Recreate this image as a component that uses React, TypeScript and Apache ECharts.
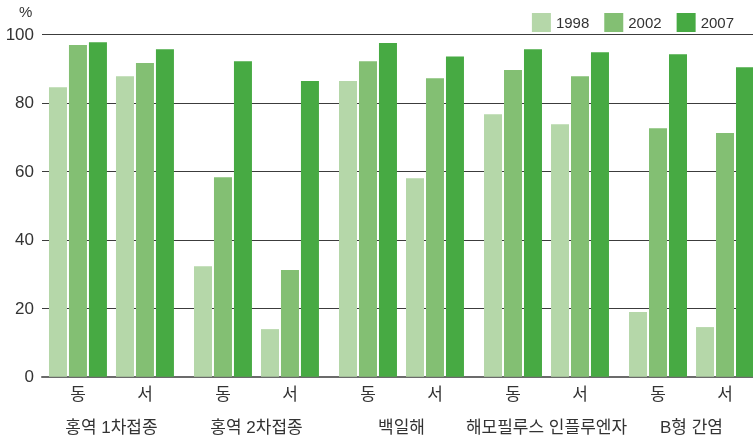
import React, { useEffect, useRef } from "react";
import * as echarts from "echarts";

const GROUPS = ["홍역 1차접종", "홍역 2차접종", "백일해", "해모필루스 인플루엔자", "B형 간염"];
const SIDES = ["동", "서"];
const SERIES_NAMES = ["1998", "2002", "2007"];
const S1998 = [84.6, 87.8, 32.3, 13.9, 86.4, 58.0, 76.7, 73.8, 18.9, 14.5];
const S2002 = [96.9, 91.7, 58.3, 31.2, 92.2, 87.2, 89.6, 87.8, 72.6, 71.2];
const S2007 = [97.7, 95.7, 92.2, 86.4, 97.5, 93.6, 95.7, 94.8, 94.2, 90.4];
const Y_MIN = 0;
const Y_MAX = 100;
const Y_INTERVAL = 20;
const UNIT = "%";

const COLORS = ["#b5d7a9", "#83bf73", "#47aa43"];
const FONT = "'Liberation Sans', 'Noto Sans CJK KR', sans-serif";

// layout of the x scale (group pitch = 1 unit)
const SIDE_OFFSET = 0.462;
const X_MIN = -0.248;
const X_MAX = 4.655;

export default function App() {
  const ref = useRef<HTMLDivElement>(null);

  useEffect(() => {
    if (!ref.current) return;
    const chart = echarts.init(ref.current, null, { renderer: "svg" });

    const nCats = GROUPS.length * SIDES.length;
    const positions: number[] = [];
    for (let i = 0; i < nCats; i++) {
      positions.push(Math.floor(i / 2) + (i % 2) * SIDE_OFFSET);
    }
    const groupCenters = GROUPS.map((_, g) => g + SIDE_OFFSET / 2);
    const findIdx = (arr: number[], v: number) =>
      arr.findIndex((p) => Math.abs(p - v) < 1e-6);

    const seriesData = [S1998, S2002, S2007];

    chart.setOption({
      animation: false,
      textStyle: { fontFamily: FONT },
      legend: {
        data: SERIES_NAMES,
        right: 14,
        top: 8,
        icon: "rect",
        itemWidth: 19,
        itemHeight: 19,
        itemGap: 15,
        textStyle: { fontSize: 15, color: "#333", fontFamily: FONT },
      },
      graphic: [
        {
          type: "text",
          left: 19,
          top: 4,
          style: { text: UNIT, fontSize: 15, fill: "#333", fontFamily: FONT },
        },
      ],
      grid: {
        left: 42,
        right: 0,
        top: 34.5,
        bottom: 67.3,
        containLabel: false,
        outerBoundsMode: "none",
      },
      xAxis: [
        {
          type: "value",
          min: X_MIN,
          max: X_MAX,
          position: "bottom",
          axisLine: { show: true, lineStyle: { color: "#6b6b6b", width: 2 } },
          axisTick: { show: false },
          splitLine: { show: false },
          axisLabel: {
            customValues: positions,
            formatter: (v: number) => {
              const i = findIdx(positions, v);
              return i >= 0 ? SIDES[i % 2] : "";
            },
            fontSize: 17,
            color: "#333",
            margin: 9,
            fontFamily: FONT,
          },
        },
        {
          type: "value",
          min: X_MIN,
          max: X_MAX,
          position: "bottom",
          offset: 33,
          axisLine: { show: false },
          axisTick: { show: false },
          splitLine: { show: false },
          axisLabel: {
            customValues: groupCenters,
            formatter: (v: number) => {
              const i = findIdx(groupCenters, v);
              return i >= 0 ? GROUPS[i] : "";
            },
            fontSize: 17,
            color: "#333",
            margin: 9,
            fontFamily: FONT,
          },
        },
      ],
      yAxis: {
        type: "value",
        min: Y_MIN,
        max: Y_MAX,
        interval: Y_INTERVAL,
        axisLine: { show: false },
        axisTick: { show: false },
        splitLine: { show: true, lineStyle: { color: "#3c3c3c", width: 1 } },
        axisLabel: { fontSize: 17, color: "#333", margin: 8, fontFamily: FONT },
      },
      series: SERIES_NAMES.map((name, k) => ({
        name,
        type: "bar",
        xAxisIndex: 0,
        barWidth: 18,
        barGap: "11%",
        itemStyle: { color: COLORS[k] },
        data: seriesData[k].map((v, i) => [positions[i], v]),
      })),
    });

    return () => chart.dispose();
  }, []);

  return (
    <div
      ref={ref}
      style={{ position: "fixed", left: 0, top: 0, width: 753, height: 444 }}
    />
  );
}
